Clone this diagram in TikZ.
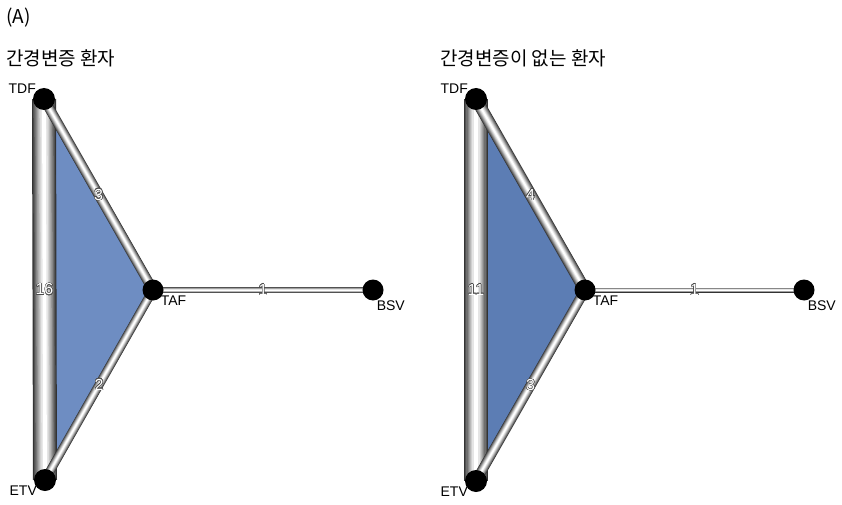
\documentclass[tikz,border=0pt]{standalone}
\usepackage{fontspec}
\setmainfont{Liberation Sans}
\newfontfamily\krfont{Noto Sans CJK KR}
\usepackage[copies]{contour}
\usetikzlibrary{positioning,backgrounds}
\contourlength{0.4pt}
\definecolor{triA}{HTML}{6E8DC2}
\definecolor{triB}{HTML}{5C7DB4}

% metal tube: layered strokes, dark rim to light core
\newcommand{\tube}[3]{%
  \foreach \f/\c in {1/black!80, 0.9/black!68, 0.8/black!57, 0.7/black!47, 0.6/black!37, 0.5/black!28, 0.4/black!19, 0.3/black!10, 0.16/white}
    \draw[line width=\f*#3, \c] (#1.center) -- (#2.center);}

\begin{document}
\begin{tikzpicture}[x=1pt, y=-1pt,
  dot/.style={circle, fill=black, inner sep=0pt, minimum size=22pt},
  lbl/.style={font=\fontsize{14}{15}\selectfont, inner sep=1pt},
  num/.style={font=\fontsize{16}{17}\selectfont, inner sep=0pt},
  ttl/.style={font=\krfont\fontsize{19}{22}\selectfont, anchor=west, inner sep=0pt}
]
\useasboundingbox (0,0) rectangle (842,505);

\node[ttl] (tA) at (6,18) {(A)};
\node[ttl] (t1) at (6,58) {간경변증 환자};
\node[ttl] (t2) at (440,58) {간경변증이 없는 환자};

% left panel
\node[dot] (tdf1) at (44,99) {};
\node[dot] (etv1) at (45,480) {};
\node[dot, minimum size=21pt] (taf1) at (153,290) {};
\node[dot, minimum size=21pt] (bsv1) at (373,290) {};
\node[lbl, above left=-4pt and -1pt of tdf1] (tdf1l) {TDF};
\node[lbl, below left=-3pt and -1pt of etv1] (etv1l) {ETV};
\node[lbl, below right=-3pt and -1pt of taf1] (taf1l) {TAF};
\node[lbl, below right=2pt and -5pt of bsv1] (bsv1l) {BSV};

% right panel
\node[dot] (tdf2) at (476,99) {};
\node[dot] (etv2) at (476,481) {};
\node[dot, minimum size=21pt] (taf2) at (585,290) {};
\node[dot, minimum size=21pt] (bsv2) at (804,290) {};
\node[lbl, above left=-4pt and -1pt of tdf2] (tdf2l) {TDF};
\node[lbl, below left=-3pt and -1pt of etv2] (etv2l) {ETV};
\node[lbl, below right=-3pt and -1pt of taf2] (taf2l) {TAF};
\node[lbl, below right=2pt and -5pt of bsv2] (bsv2l) {BSV};

\begin{scope}[on background layer]
  \fill[triA] (tdf1.center) -- (taf1.center) -- (etv1.center) -- cycle;
  \tube{tdf1}{etv1}{24pt}
  \tube{tdf1}{taf1}{10pt}
  \tube{taf1}{etv1}{9pt}
  \tube{taf1}{bsv1}{6pt}
  \fill[triB] (tdf2.center) -- (taf2.center) -- (etv2.center) -- cycle;
  \tube{tdf2}{etv2}{24pt}
  \tube{tdf2}{taf2}{12pt}
  \tube{taf2}{etv2}{10pt}
  \tube{taf2}{bsv2}{5pt}
\end{scope}

% edge counts
\path (tdf1) -- node[num] {\contour{black!70}{\textcolor{white}{16}}} (etv1);
\path (tdf1) -- node[num] {\contour{black!70}{\textcolor{white}{3}}} (taf1);
\path (taf1) -- node[num] {\contour{black!70}{\textcolor{white}{2}}} (etv1);
\path (taf1) -- node[num] {\contour{black!70}{\textcolor{white}{1}}} (bsv1);
\path (tdf2) -- node[num] {\contour{black!70}{\textcolor{white}{11}}} (etv2);
\path (tdf2) -- node[num] {\contour{black!70}{\textcolor{white}{4}}} (taf2);
\path (taf2) -- node[num] {\contour{black!70}{\textcolor{white}{3}}} (etv2);
\path (taf2) -- node[num] {\contour{black!70}{\textcolor{white}{1}}} (bsv2);
\end{tikzpicture}
\end{document}
